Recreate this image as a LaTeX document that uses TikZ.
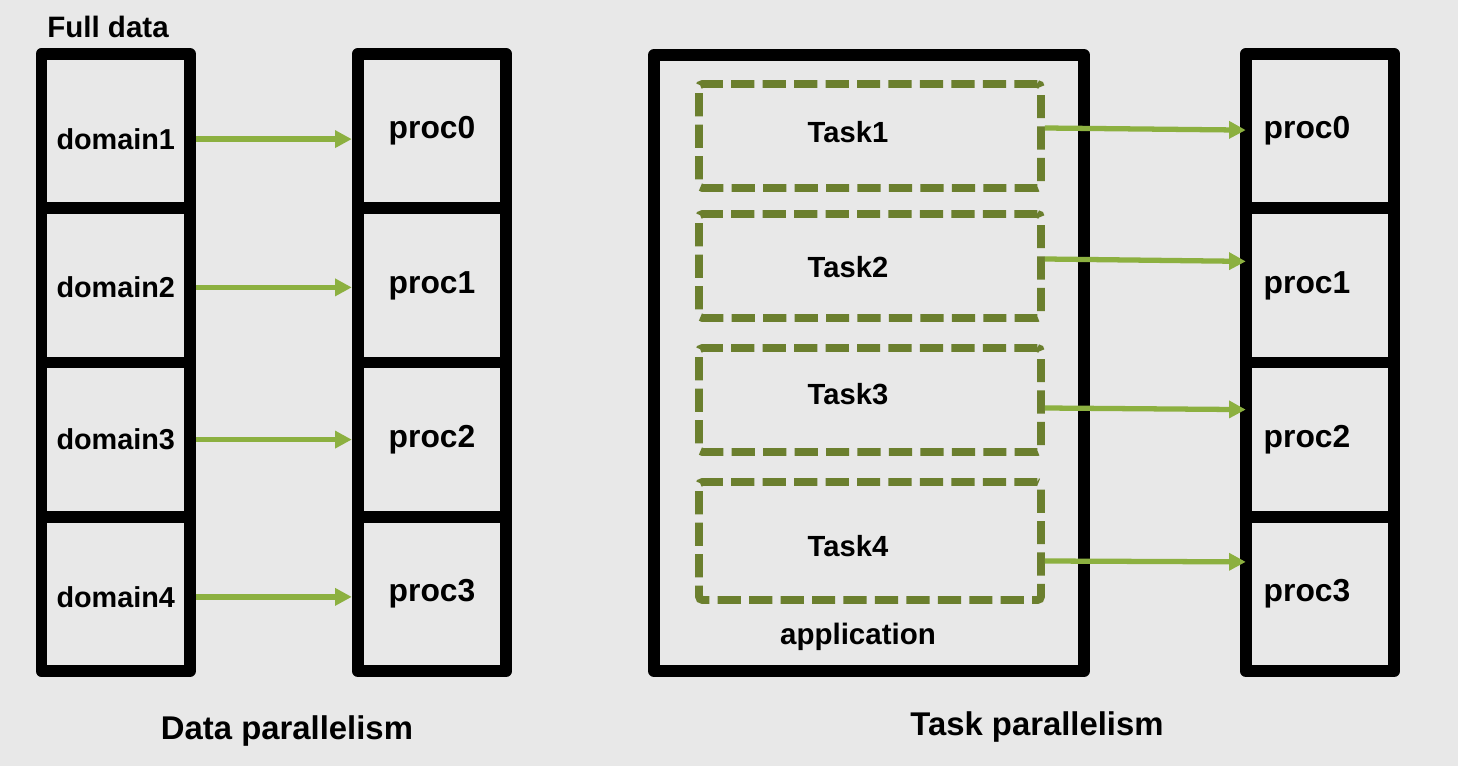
\documentclass[tikz,border=0pt]{standalone}
\usepackage{fontspec}
\setmainfont{Liberation Sans}
\usepackage{tikz}
\usetikzlibrary{arrows.meta,calc,positioning}
\definecolor{bggray}{HTML}{E8E8E8}
\definecolor{taskolive}{HTML}{6B7F2E}
\definecolor{arrowgreen}{HTML}{8CB040}
\tikzset{
  cell/.style={draw=black,line width=6.8pt,line join=round,minimum width=2.97cm,minimum height=3.085cm,inner sep=0pt},
  appbox/.style={draw=black,line width=6.8pt,line join=round,minimum width=8.6cm,minimum height=12.32cm,inner sep=0pt},
  taskbox/.style={draw=taskolive,line width=4.5pt,dash pattern=on 13.2pt off 4.7pt,rounded corners=2pt,minimum width=6.84cm,inner sep=0pt},
  flow/.style={draw=arrowgreen,line width=3pt,-{Triangle[length=9.5pt,width=9.5pt]}},
  cellfont/.style={font=\fontsize{16.4}{19}\selectfont\bfseries},
  procfont/.style={font=\fontsize{18.1}{21}\selectfont\bfseries},
  taskfont/.style={font=\fontsize{16.6}{19}\selectfont\bfseries},
  title/.style={font=\fontsize{16.8}{20}\selectfont\bfseries},
  caption/.style={font=\fontsize{18.7}{22}\selectfont\bfseries}
}
\begin{document}
\begin{tikzpicture}[x=0.02cm,y=-0.02cm]
\useasboundingbox[fill=bggray] (0,0) rectangle (1458,766);
\node[title] (full) at (108,27) {Full data};
\foreach \i/\y/\a [evaluate=\i as \j using int(\i-1)] in {1/131.1/8,2/285.4/2,3/439.6/0,4/593.9/3} {
  \node[cell,label={[cellfont,yshift=-\a*0.02cm]center:domain\i}] (d\i) at (115.75,\y) {};
  \node[cell,label={[procfont]center:proc\j}] (p\i) at (432,\y) {};
  \node[cell,label={[procfont,xshift=-0.26cm]center:proc\j}] (r\i) at (1320,\y) {};
  \draw[flow] ($(d\i.east)+(0,\a)$) -- ($(p\i.west)+(0,\a)$);
}
\node[appbox] (app) at (869,363) {};
\node[title] (appname) at (858,637) {application};
\foreach \i/\y/\h/\s/\a/\b in {1/136/2.08/0.08/-8/-1,2/266/2.08/-0.02/-7/-24,3/400/2.08/0.12/8/-30,4/541/2.36/-0.1/20/-32} {
  \node[taskbox,minimum height=\h cm,label={[taskfont,xshift=-0.44cm,yshift=\s cm]center:Task\i}] (t\i) at (870,\y) {};
  \draw[flow] ($(t\i.east)+(0,\a)$) -- ($(r\i.west)+(6,\b)$);
}
\node[caption] (dp) at (287,731) {Data parallelism};
\node[caption] (tp) at (1037,727) {Task parallelism};
\end{tikzpicture}
\end{document}
